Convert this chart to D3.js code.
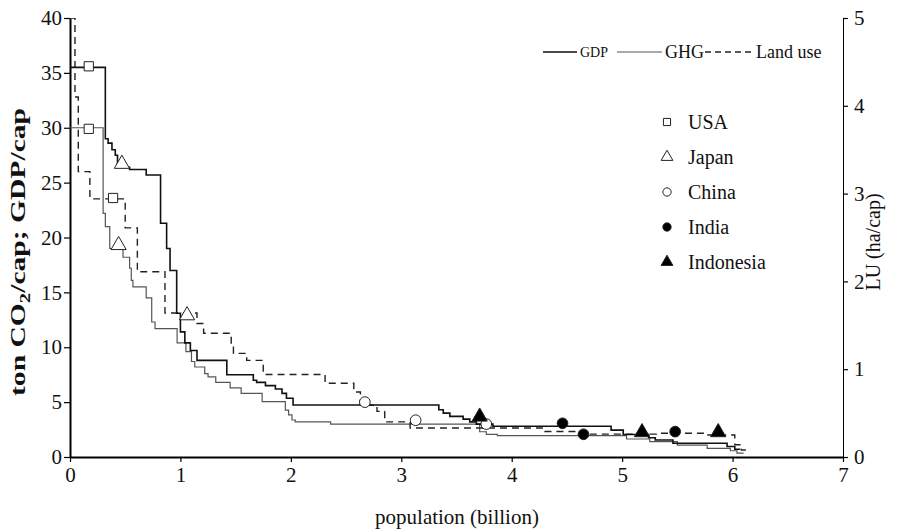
<!DOCTYPE html>
<html>
<head>
<meta charset="utf-8">
<script src="https://cdn.jsdelivr.net/npm/d3@7"></script>
<style>
  body { margin: 0; background: #fff; }
  text { font-family: "Liberation Serif", "Times New Roman", serif; fill: #111; }
</style>
</head>
<body>
<div id="chart"></div>
<script>
// step series: x = cumulative population (billion), value holds until next x
const gdpX = [0, 0.32, 0.345, 0.38, 0.41, 0.43, 0.54, 0.69, 0.82, 0.875, 0.906, 0.966, 1.0, 1.04, 1.09, 1.15, 1.42, 1.66, 1.69, 1.77, 1.86, 1.92, 1.96, 2.02, 3.34, 3.38, 3.44, 3.56, 3.62, 3.68, 3.83, 4.9, 5.01, 5.24, 5.3, 5.46, 5.95, 6.02, 6.07];
const gdpY = [35.5, 29.0, 28.6, 28.0, 27.5, 26.4, 26.2, 25.7, 21.3, 19.0, 17.0, 13.1, 11.4, 10.4, 9.7, 8.8, 7.5, 7.0, 6.8, 6.5, 6.2, 5.8, 5.35, 4.74, 4.3, 4.0, 3.7, 3.45, 3.2, 3.0, 2.8, 2.45, 2.05, 1.76, 1.55, 1.25, 0.95, 0.7, 0.7];

const ghgX = [0, 0.30, 0.32, 0.33, 0.36, 0.48, 0.54, 0.555, 0.57, 0.69, 0.74, 0.77, 0.97, 1.05, 1.1, 1.13, 1.22, 1.25, 1.32, 1.45, 1.55, 1.74, 1.95, 1.98, 2.01, 2.04, 2.36, 3.71, 3.77, 3.87, 5.04, 5.25, 5.5, 5.77, 5.98, 6.04, 6.1];
const ghgY = [30.0, 22.2, 21.0, 21.0, 19.0, 18.2, 17.2, 16.1, 15.5, 14.5, 12.3, 11.7, 10.4, 9.6, 8.7, 8.2, 7.6, 7.3, 6.8, 6.3, 5.8, 5.04, 4.28, 3.83, 3.37, 3.2, 3.0, 2.3, 2.07, 1.94, 1.64, 1.4, 1.09, 0.79, 0.57, 0.36, 0.36];

// land use in ha/cap (right axis)
const luX = [0, 0.045, 0.075, 0.18, 0.50, 0.61, 0.86, 1.15, 1.21, 1.46, 1.48, 1.60, 1.75, 2.31, 2.57, 2.63, 2.78, 2.85, 3.08, 4.3, 4.59, 5.31, 5.77, 6.02, 6.08, 6.12];
const luY = [5.0, 4.1, 3.25, 2.94, 2.61, 2.11, 1.64, 1.52, 1.41, 1.25, 1.18, 1.10, 0.94, 0.84, 0.74, 0.59, 0.52, 0.40, 0.33, 0.29, 0.26, 0.27, 0.25, 0.14, 0.08, 0.08];

// country markers, [population, value on left axis]
const usaPts = [[0.17, 35.6], [0.17, 29.9], [0.39, 23.6]];
const japanPts = [[0.47, 26.7], [0.44, 19.3], [1.06, 12.9]];
const chinaPts = [[2.67, 5.0], [3.13, 3.35], [3.77, 3.0]];
const indiaPts = [[4.46, 3.07], [4.65, 2.07], [5.48, 2.31]];
const indonesiaPts = [[3.71, 3.67], [5.18, 2.25], [5.87, 2.25]];

const countries = ["USA", "Japan", "China", "India", "Indonesia"];
const xTicks = [0, 1, 2, 3, 4, 5, 6, 7];
const yLeftTicks = [0, 5, 10, 15, 20, 25, 30, 35, 40];
const yRightTicks = [0, 1, 2, 3, 4, 5];

const serif = '"Liberation Serif", "Times New Roman", serif';
const margin = {top: 18, right: 56, bottom: 75, left: 70};
const W = 899, H = 532;
const width = W - margin.left - margin.right;
const height = H - margin.top - margin.bottom;

const svg = d3.select("#chart").append("svg")
    .attr("width", W).attr("height", H)
  .append("g")
    .attr("transform", `translate(${margin.left},${margin.top})`);

const x = d3.scaleLinear().domain([0, 7]).range([0, width]);
const yL = d3.scaleLinear().domain([0, 40]).range([height, 0]);
const yR = d3.scaleLinear().domain([0, 5]).range([height, 0]);
const fmt = d3.format("d");

// axes
const gx = svg.append("g")
  .attr("transform", `translate(0,${height})`)
  .call(d3.axisBottom(x).tickValues(xTicks).tickFormat(fmt).tickSize(5).tickPadding(5).tickSizeOuter(0));
gx.select(".domain").attr("stroke-width", 2);

const gl = svg.append("g")
  .call(d3.axisLeft(yL).tickValues(yLeftTicks).tickFormat(fmt).tickSize(6).tickPadding(2).tickSizeOuter(0));
gl.select(".domain").attr("stroke-width", 2);

const gr = svg.append("g")
  .attr("transform", `translate(${width},0)`)
  .call(d3.axisRight(yR).tickValues(yRightTicks).tickFormat(fmt).tickSize(5).tickPadding(6).tickSizeOuter(0));

[gx, gl, gr].forEach(g => g.attr("font-family", serif));
svg.selectAll(".tick text").style("font-family", serif).style("font-size", "21px");
svg.selectAll(".tick line").attr("stroke-width", 1.2);

// lines
svg.append("clipPath").attr("id", "clip")
  .append("rect").attr("width", width).attr("height", height);

const zip = (xs, ys) => xs.map((v, i) => [v, ys[i]]);
const lineL = d3.line().curve(d3.curveStepAfter).x(d => x(d[0])).y(d => yL(d[1]));
const lineR = d3.line().curve(d3.curveStepAfter).x(d => x(d[0])).y(d => yR(d[1]));

const plot = svg.append("g").attr("clip-path", "url(#clip)");

plot.append("path").datum(zip(ghgX, ghgY))
  .attr("fill", "none").attr("stroke", "#555").attr("stroke-width", 1.2)
  .attr("d", lineL);

plot.append("path").datum(zip(luX, luY))
  .attr("fill", "none").attr("stroke", "#222").attr("stroke-width", 1.4)
  .attr("stroke-dasharray", "7,5")
  .attr("d", lineR);

plot.append("path").datum(zip(gdpX, gdpY))
  .attr("fill", "none").attr("stroke", "#111").attr("stroke-width", 1.6)
  .attr("d", lineL);

// markers
const markerDefs = [
  {pts: usaPts, type: d3.symbolSquare, size: 85, fill: "#fff"},
  {pts: japanPts, type: d3.symbolTriangle, size: 100, fill: "#fff"},
  {pts: chinaPts, type: d3.symbolCircle, size: 90, fill: "#fff"},
  {pts: indiaPts, type: d3.symbolCircle, size: 90, fill: "#000"},
  {pts: indonesiaPts, type: d3.symbolTriangle, size: 100, fill: "#000"}
];

markerDefs.forEach(m => {
  svg.selectAll(null).data(m.pts).join("path")
    .attr("transform", d => `translate(${x(d[0])},${yL(d[1])})`)
    .attr("d", d3.symbol().type(m.type).size(m.size))
    .attr("fill", m.fill).attr("stroke", "#222").attr("stroke-width", 1);
});

// series legend
const leg = svg.append("g").attr("transform", `translate(0,${52 - margin.top})`);
const legItems = [
  {label: "GDP", x0: 473, x1: 507, dash: null, w: 1.6, color: "#111", fs: 14},
  {label: "GHG", x0: 547, x1: 592, dash: null, w: 1.2, color: "#555", fs: 18},
  {label: "Land use", x0: 635, x1: 683, dash: "6,4", w: 1.4, color: "#222", fs: 18}
];
legItems.forEach(d => {
  leg.append("line").attr("x1", d.x0).attr("x2", d.x1).attr("y1", 0).attr("y2", 0)
    .attr("stroke", d.color).attr("stroke-width", d.w).attr("stroke-dasharray", d.dash);
  leg.append("text").attr("x", d.x1 + 3).attr("y", 0).attr("dy", "0.35em")
    .style("font-size", d.fs + "px").text(d.label);
});

// country legend
const cleg = svg.append("g").attr("transform", `translate(${667 - margin.left},${122 - margin.top})`);
countries.forEach((c, i) => {
  const m = markerDefs[i];
  cleg.append("path")
    .attr("transform", `translate(0,${i * 35})`)
    .attr("d", d3.symbol().type(m.type).size(m.size * 0.6))
    .attr("fill", m.fill).attr("stroke", "#222").attr("stroke-width", 1);
  cleg.append("text").attr("x", 21).attr("y", i * 35).attr("dy", "0.35em")
    .style("font-size", "20px").text(c);
});

// axis titles
const yt = svg.append("text")
  .attr("transform", `translate(${25 - margin.left},${252 - margin.top}) rotate(-90)`)
  .attr("text-anchor", "middle")
  .attr("textLength", 288).attr("lengthAdjust", "spacingAndGlyphs")
  .style("font-size", "20px").style("font-weight", "bold");
yt.append("tspan").text("ton CO");
yt.append("tspan").attr("dy", 5).style("font-size", "14px").text("2");
yt.append("tspan").attr("dy", -5).text("/cap; GDP/cap");

svg.append("text")
  .attr("transform", `translate(${width + 37},${242 - margin.top}) rotate(-90)`)
  .attr("text-anchor", "middle")
  .style("font-size", "20px")
  .text("LU (ha/cap)");

svg.append("text")
  .attr("x", 457 - margin.left).attr("y", 524 - margin.top)
  .attr("text-anchor", "middle")
  .style("font-size", "21px")
  .text("population (billion)");
</script>
</body>
</html>
